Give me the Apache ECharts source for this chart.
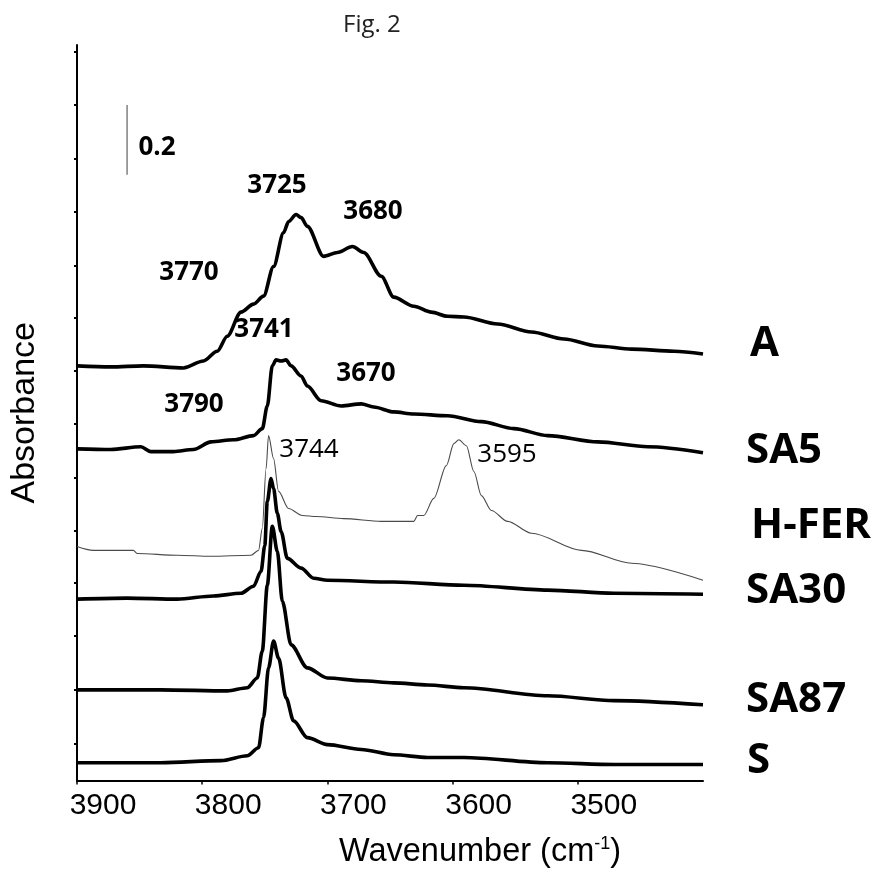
<!DOCTYPE html>
<html>
<head>
<meta charset="utf-8">
<script src="https://cdn.jsdelivr.net/npm/echarts@6/dist/echarts.min.js"></script>
<style>
  html, body { margin: 0; padding: 0; background: #fff; }
  #chart { width: 878px; height: 874px; }
</style>
</head>
<body>
<div id="chart"></div>
<script>
// spectra: [wavenumber, absorbance] (offset stacked)
const specA = [[3900,1.189],[3873,1.186],[3847,1.189],[3815,1.183],[3799,1.203],[3788,1.231],[3780,1.274],[3769,1.343],[3759,1.366],[3751,1.389],[3743,1.474],[3735,1.571],[3731,1.603],[3725,1.623],[3721,1.614],[3716,1.589],[3703,1.503],[3692,1.514],[3680,1.531],[3671,1.514],[3657,1.446],[3647,1.386],[3631,1.360],[3617,1.343],[3604,1.331],[3591,1.329],[3564,1.309],[3537,1.286],[3511,1.266],[3484,1.246],[3457,1.237],[3423,1.231],[3400,1.223]]
const specSA5 = [[3900,0.951],[3873,0.949],[3849,0.957],[3841,0.943],[3823,0.943],[3807,0.949],[3793,0.971],[3775,0.977],[3759,0.989],[3752,1.009],[3748,1.074],[3744,1.189],[3741,1.206],[3737,1.203],[3733,1.206],[3729,1.189],[3721,1.160],[3716,1.131],[3705,1.089],[3689,1.074],[3673,1.080],[3663,1.071],[3647,1.057],[3631,1.051],[3604,1.046],[3577,1.029],[3551,1.009],[3524,0.989],[3484,0.971],[3444,0.957],[3400,0.940]]
const specHFER = [[3900,0.671],[3887,0.660],[3855,0.660],[3852,0.651],[3820,0.646],[3793,0.643],[3761,0.646],[3755,0.660],[3752,0.723],[3749,0.894],[3747,0.989],[3743,0.923],[3739,0.829],[3731,0.780],[3720,0.760],[3709,0.757],[3687,0.751],[3657,0.743],[3631,0.743],[3628,0.760],[3623,0.760],[3615,0.809],[3605,0.903],[3599,0.966],[3595,0.977],[3589,0.960],[3583,0.886],[3577,0.817],[3569,0.774],[3556,0.743],[3537,0.709],[3497,0.660],[3457,0.623],[3400,0.574]]
const specSA30 = [[3900,0.520],[3860,0.523],[3820,0.520],[3791,0.529],[3769,0.537],[3759,0.557],[3753,0.600],[3750,0.674],[3748,0.800],[3745,0.866],[3743,0.837],[3740,0.766],[3737,0.714],[3732,0.637],[3721,0.609],[3711,0.580],[3700,0.574],[3647,0.569],[3591,0.560],[3524,0.546],[3471,0.537],[3400,0.534]]
const specSA87 = [[3900,0.260],[3833,0.260],[3780,0.257],[3764,0.266],[3756,0.294],[3752,0.371],[3748,0.560],[3744,0.729],[3740,0.657],[3736,0.514],[3729,0.389],[3716,0.323],[3700,0.294],[3673,0.286],[3647,0.280],[3620,0.274],[3591,0.266],[3524,0.243],[3471,0.229],[3400,0.217]]
const specS = [[3900,0.051],[3833,0.051],[3785,0.057],[3764,0.071],[3755,0.094],[3751,0.180],[3747,0.323],[3743,0.400],[3739,0.351],[3733,0.237],[3727,0.171],[3716,0.123],[3700,0.103],[3673,0.089],[3647,0.074],[3620,0.066],[3591,0.066],[3524,0.051],[3471,0.046],[3400,0.046]]

const sampleNames = ['A', 'SA5', 'H-FER', 'SA30', 'SA87', 'S']
const yTicks = [0.106, 0.260, 0.414, 0.566, 0.717, 0.869, 1.023, 1.174, 1.326, 1.477, 1.631, 1.783, 1.937, 2.089]
const scaleBar = [[3860, 1.937], [3860, 1.737]] // 0.2 absorbance
const peakTexts = ['3725', '3680', '3770', '3741', '3790', '3670', '3744', '3595']

// layout of the annotations (pixels)
const peakPos = [
  [277, 186, 'bold'], [373, 212, 'bold'], [189, 273, 'bold'], [264, 330, 'bold'],
  [194, 405, 'bold'], [366, 374, 'bold'], [309, 450, 'normal'], [507, 455, 'normal'],
]
const namePos = [[750, 344], [746, 451], [751, 526], [746, 591], [746, 700], [747, 761]]

const spectra = [specA, specSA5, specHFER, specSA30, specSA87, specS]

const series = spectra.map((d, i) => ({
  name: sampleNames[i],
  type: 'line',
  data: d,
  symbol: 'none',
  smooth: 0.3,
  smoothMonotone: 'x',
  lineStyle: {
    color: sampleNames[i] === 'H-FER' ? '#4a4a4a' : '#000',
    width: sampleNames[i] === 'H-FER' ? 1.1 : 3.6,
  },
}))

series.push({
  type: 'line',
  data: scaleBar,
  symbol: 'none',
  lineStyle: { color: '#808080', width: 1.5 },
})

const textItem = (t, x, y, font, align) => ({
  type: 'text',
  x: x,
  y: y,
  style: { text: t, fill: '#000', font: font, textAlign: align, textVerticalAlign: 'middle' },
})

const chart = echarts.init(document.getElementById('chart'))
chart.setOption({
  animation: false,
  title: {
    text: 'Fig. 2',
    left: 338,
    top: 8,
    textStyle: { fontFamily: 'Open Sans', fontWeight: 'normal', fontSize: 24, color: '#222' },
  },
  grid: { left: 77, right: 175, top: 45, bottom: 91 },
  xAxis: {
    type: 'value',
    min: 3400,
    max: 3900,
    interval: 100,
    inverse: true,
    splitLine: { show: false },
    axisLine: { lineStyle: { color: '#000', width: 2 } },
    axisTick: { length: 4, lineStyle: { color: '#000', width: 1.5 } },
    axisLabel: {
      showMinLabel: false,
      margin: 10,
      padding: [0, 0, 0, 52],
      formatter: v => String(v),
      color: '#000',
      fontFamily: 'Liberation Sans',
      fontSize: 30,
    },
    name: '{a|Wavenumber (cm}{s|-1}{a|)}',
    nameLocation: 'middle',
    nameGap: 55,
    nameTextStyle: {
      padding: [0, 0, 0, 180],
      rich: {
        a: { fontFamily: 'Liberation Sans', fontSize: 32.5, color: '#000', lineHeight: 34 },
        s: { fontFamily: 'Liberation Sans', fontSize: 18, color: '#000', lineHeight: 34, verticalAlign: 'top' },
      },
    },
  },
  yAxis: {
    type: 'value',
    min: 0,
    max: 2.109,
    splitLine: { show: false },
    axisLine: { show: true, lineStyle: { color: '#000', width: 2 } },
    axisTick: { show: true, length: 3, customValues: yTicks, lineStyle: { color: '#000', width: 2 } },
    axisLabel: { show: false },
    name: 'Absorbance',
    nameLocation: 'middle',
    nameRotate: 90,
    nameGap: 35,
    nameTextStyle: { fontFamily: 'Liberation Sans', fontSize: 34, color: '#000' },
  },
  graphic: [textItem('0.2', 157, 148, 'bold 26px "Open Sans"', 'center')]
    .concat(peakTexts.map((t, i) => textItem(t, peakPos[i][0], peakPos[i][1], peakPos[i][2] + ' 26px "Open Sans"', 'center')))
    .concat(sampleNames.map((t, i) => textItem(t, namePos[i][0], namePos[i][1], 'bold 42px "Open Sans"', 'left'))),
  series: series,
})
</script>
</body>
</html>
